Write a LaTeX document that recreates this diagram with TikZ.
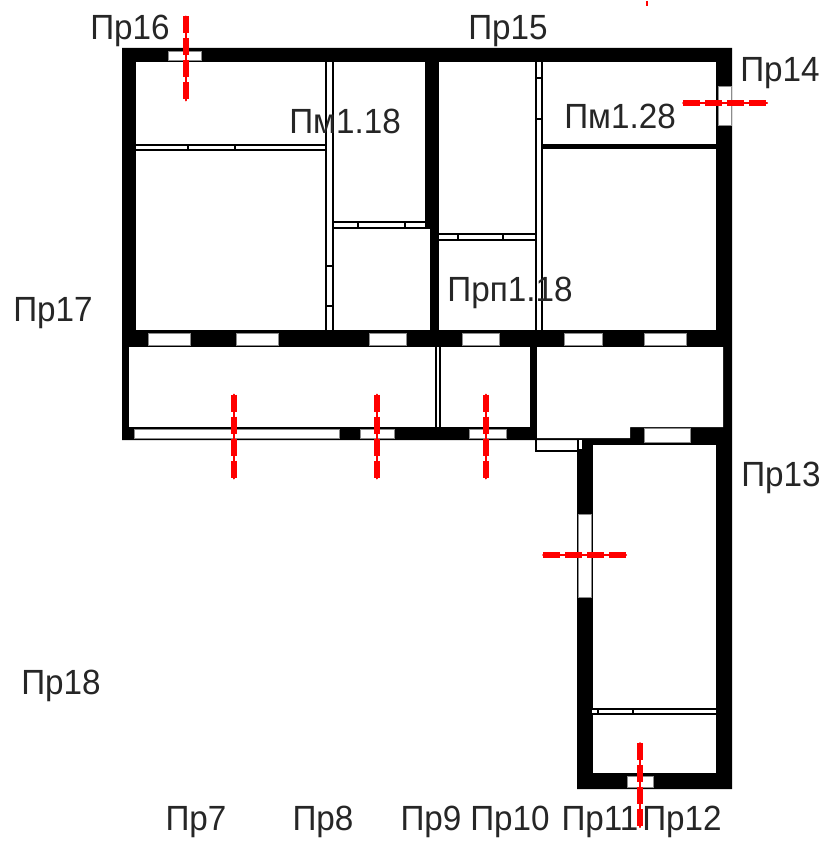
\documentclass[tikz,border=0pt]{standalone}
\usepackage{fontspec}
\setmainfont[FakeStretch=0.95]{Liberation Sans}
\tikzset{
 x=1pt,y=-1pt,
 lbl/.style={inner sep=0pt,font=\fontsize{35}{37}\selectfont,text=black!85},
 cut/.style={red,line width=6.5pt,dash pattern=on 17pt off 5pt,line cap=butt},
 cutcore/.style={red,line width=2pt,line cap=round},
}
\newcommand{\wall}[4]{\fill[black] (#1,#2) rectangle (#3,#4);}
\newcommand{\hole}[4]{\filldraw[fill=white,draw=black!45,line width=.5pt] (#1,#2) rectangle (#3,#4);}
% horizontal partition x1 x2 y1 y2 tick1 tick2
\newcommand{\hpart}[6]{\fill[black] (#1,#3) rectangle (#2,#4);
 \fill[white] (#1,#3+2.4) rectangle (#2,#4-2.4);
 \fill[black] (#5-1,#3) rectangle (#5+1,#4); \fill[black] (#6-1,#3) rectangle (#6+1,#4);}
\newcommand{\vpart}[6]{\fill[black] (#3,#1) rectangle (#4,#2);
 \fill[white] (#3+2.4,#1) rectangle (#4-2.4,#2);
 \fill[black] (#3,#5-1) rectangle (#4,#5+1); \fill[black] (#3,#6-1) rectangle (#4,#6+1);}
\begin{document}
\begin{tikzpicture}
\useasboundingbox (0,0) rectangle (822,842);
\fill[white] (0,0) rectangle (822,842);
% solid plan
\fill[black] (122,48) -- (732,48) -- (732,789) -- (577,789) -- (577,440) -- (122,440) -- cycle;
% rooms
\fill[white] (136,62) rectangle (425,330);
\fill[white] (334,229) rectangle (430,330);
\fill[white] (439,62) rectangle (716,330);
\fill[white] (129,347) rectangle (530,427);
\fill[white] (537,347) -- (723,347) -- (723,427) -- (630,427) -- (630,438) -- (537,438) -- cycle;
\fill[white] (593,445) rectangle (716,773);
% partitions
\vpart{62}{330}{325}{334}{266}{306}
\vpart{62}{330}{535}{543}{78}{119}
\hpart{136}{325}{144}{151}{188}{235}
\hpart{334}{425}{221}{229}{358}{405}
\hpart{439}{535}{233}{241}{458}{503}
\wall{543}{144}{716}{149}
\fill[black] (435,347) rectangle (441,427);
\fill[white] (437.2,347) rectangle (438.8,427);
\hpart{592}{716}{708}{715}{598}{633}
% openings
\hole{168}{51}{201}{60}
\hole{718}{86}{731}{125}
\hole{148}{333}{190}{345}
\hole{236}{333}{278}{345}
\hole{369}{333}{406}{345}
\hole{462}{333}{499}{345}
\hole{564}{333}{602}{345}
\hole{644}{333}{686}{345}
\hole{134}{429}{339}{438}
\hole{360}{429}{394}{438}
\hole{469}{429}{506}{438}
\hole{644}{428}{690}{442}
\hole{578}{514}{591}{597}
\hole{627}{776}{653}{787}
% small ledge at the corner
\fill[black] (535,438) rectangle (537,452);
\fill[black] (535,449.5) rectangle (577,451.5);
\fill[white] (579,440) rectangle (582,449);
% section marks
\coordinate (a1) at (186,16.5); \coordinate (a2) at (186,100.5);
\coordinate (b1) at (234,394.5); \coordinate (b2) at (234,478.5);
\coordinate (c1) at (377,394.5); \coordinate (c2) at (377,478.5);
\coordinate (d1) at (486,394.5); \coordinate (d2) at (486,478.5);
\coordinate (e1) at (640,743); \coordinate (e2) at (640,827);
\coordinate (f1) at (543,555); \coordinate (f2) at (626,555);
\coordinate (g1) at (683,103); \coordinate (g2) at (767,103);
\coordinate (h1) at (647,1); \coordinate (h2) at (647,6);
\foreach \p/\q in {a1/a2,b1/b2,c1/c2,d1/d2,e1/e2,f1/f2,g1/g2}{\draw[cutcore] (\p) -- (\q); \draw[cut] (\p) -- (\q);}
\draw[red,line width=2pt] (h1) -- (h2);
% labels
\node[lbl] (p16) at (130,31) {Пр16};
\node[lbl] (p15) at (508,31) {Пр15};
\node[lbl] (p14) at (780,73) {Пр14};
\node[lbl] (p13) at (781,478) {Пр13};
\node[lbl] (p17) at (53,313) {Пр17};
\node[lbl] (p18) at (61,686) {Пр18};
\node[lbl] (p7) at (196,822) {Пр7};
\node[lbl] (p8) at (323,822) {Пр8};
\node[lbl] (p9) at (431,822) {Пр9};
\node[lbl] (p10) at (510,822) {Пр10};
\node[lbl] (p11) at (600,822) {Пр11};
\node[lbl] (p12) at (682,822) {Пр12};
\node[lbl] (m1) at (345,121) {Пм1.18};
\node[lbl] (m2) at (620,116) {Пм1.28};
\node[lbl] (m3) at (510,293) {Прп1.18};
\end{tikzpicture}
\end{document}
